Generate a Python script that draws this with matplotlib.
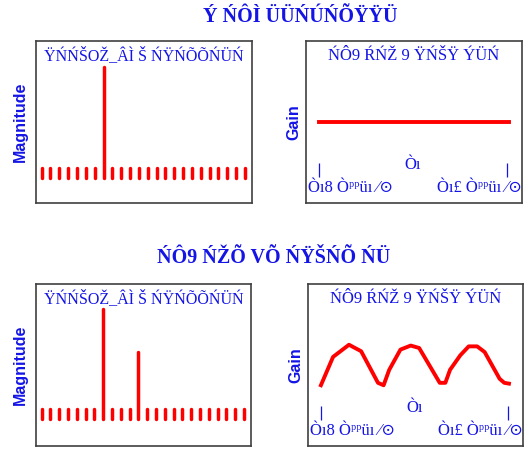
import matplotlib
matplotlib.use("Agg")
import matplotlib.pyplot as plt
import numpy as np

# ---- data ----
bins = list(range(24))
mag_top = [0.09]*24
mag_top[7] = 1.0
mag_bot = [0.09]*24
mag_bot[7] = 1.0
mag_bot[11] = 0.61

freq_flat = [-1.0, 1.02]
gain_flat = [1.0, 1.0]

freq_curve = [-1.0, -0.87, -0.70, -0.57, -0.39, -0.33, -0.27, -0.15, -0.04,
              0.05, 0.27, 0.33, 0.38, 0.49, 0.58, 0.67, 0.75, 0.91, 0.96, 1.01]
gain_curve = [0.75, 1.10, 1.25, 1.17, 0.78, 0.75, 0.94, 1.19, 1.24,
              1.21, 0.78, 0.78, 0.94, 1.12, 1.23, 1.23, 1.16, 0.83, 0.78, 0.77]

tick_pos = [-1.0, 1.0]

main_title_1 = "Ý ŃÔÌ ÜÜŃÚŃÕŸŸÜ"
main_title_2 = "ŃÔ9 ŃŽÕ VÕ ŃŸŠŃÕ ŃÜ"
left_title = "ŸŃŃŠOŽ_ÂÌ Š ŃŸŃÕÕŃÜŃ"
right_title = "ŃÔ9 ŔŃŽ 9 ŸŃŠŸ ÝÜŃ"
lab_left = "Òı8 Òᵖᵖüı ⁄⊙"
lab_mid = "Òı"
lab_right = "Òı£ Òᵖᵖüı ⁄⊙"

BLUE = "#1414e6"
W, H = 531, 459
fig = plt.figure(figsize=(W/100, H/100), dpi=100)
serif = ["Liberation Serif", "DejaVu Serif"]

def ax_at(x0, y0, x1, y1):
    ax = fig.add_axes([x0/W, (H-y1)/H, (x1-x0)/W, (y1-y0)/H])
    ax.set_xticks([]); ax.set_yticks([])
    for s in ax.spines.values():
        s.set_color("#404040"); s.set_linewidth(1.2)
    return ax

def mag_panel(ax, vals, ylo, yhi):
    lc = ax.vlines(bins, 0, vals, color="red", lw=2.5)
    lc.set_capstyle("round")
    ax.set_xlim(-0.64, 23.8)
    ax.set_ylim(ylo, yhi)
    ax.set_ylabel("Magnitude", color=BLUE, fontsize=11.5, fontweight="bold",
                  family="Liberation Sans", labelpad=6)
    ax.text(0.5, 0.91, left_title, transform=ax.transAxes, ha="center", va="center",
            color=BLUE, fontsize=11.5, family=serif)

def gain_panel(ax, f, g):
    ax.plot(f, g, color="red", lw=2.8)
    ax.set_xlim(-1.138, 1.16)
    ax.set_ylim(0, 2)
    ax.vlines(tick_pos, 0.32, 0.49, color=BLUE, lw=0.9)
    ax.set_ylabel("Gain", color=BLUE, fontsize=11.5, fontweight="bold",
                  family="Liberation Sans", labelpad=3)
    ax.text(0.5, 0.91, right_title, transform=ax.transAxes, ha="center", va="center",
            color=BLUE, fontsize=12, family=serif)
    ax.text(-1.12, 0.09, lab_left, ha="left", va="bottom", color=BLUE, fontsize=12, family=serif)
    ax.text(0.0, 0.37, lab_mid, ha="center", va="bottom", color=BLUE, fontsize=12, family=serif)
    ax.text(1.16, 0.09, lab_right, ha="right", va="bottom", color=BLUE, fontsize=12, family=serif)

a1 = ax_at(36, 41, 252, 203)
mag_panel(a1, mag_top, -0.225, 1.234)
a2 = ax_at(306, 41, 522, 203)
gain_panel(a2, freq_flat, gain_flat)
a3 = ax_at(36, 284, 251, 446)
mag_panel(a3, mag_bot, -0.245, 1.227)
a4 = ax_at(308, 284, 523, 446)
gain_panel(a4, freq_curve, gain_curve)

fig.text(300/W, 1-17/H, main_title_1, ha="center", va="center", color=BLUE,
         fontsize=14.5, fontweight="bold", family=serif)
fig.text(274/W, 1-258/H, main_title_2, ha="center", va="center", color=BLUE,
         fontsize=14.5, fontweight="bold", family=serif)

fig.savefig("out.png", dpi=100)
